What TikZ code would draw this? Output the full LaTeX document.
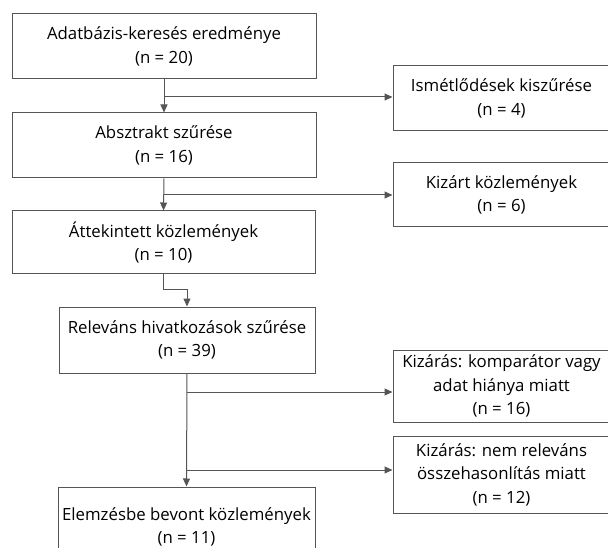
\documentclass[tikz,border=0pt]{standalone}
\usepackage{fontspec}
\setmainfont{Open Sans}
\usetikzlibrary{arrows.meta}
\definecolor{lc}{HTML}{555555}
\tikzset{
  box/.style={draw=lc, line width=1pt, align=center, inner sep=0pt,
    font=\fontsize{16.8}{23.5}\selectfont, text=black},
  arr/.style={draw=lc, line width=1pt, -{Triangle[length=8pt,width=7pt]}},
  ln/.style={draw=lc, line width=1pt}
}
\begin{document}
\begin{tikzpicture}[x=1pt,y=-1pt]
\useasboundingbox (0,0) rectangle (608,548);
\begin{scope}
\clip (0,0) rectangle (608,548);
\node[box, minimum width=304pt, minimum height=65pt] (b1) at (164,46.5) {Adatbázis-keresés eredménye\\(n = 20)};
\node[box, minimum width=304pt, minimum height=65pt] (b2) at (164,145.5) {Absztrakt szűrése\\(n = 16)};
\node[box, minimum width=303pt, minimum height=63pt] (b3) at (163.5,242.5) {Áttekintett közlemények\\(n = 10)};
\node[box, minimum width=256pt, minimum height=66pt] (b4) at (187,340) {Releváns hivatkozások szűrése\\(n = 39)};
\node[box, minimum width=257pt, minimum height=80pt] (b5) at (186.5,527) {Elemzésbe bevont közlemények\\(n = 11)};
\node[box, minimum width=217pt, minimum height=65pt] (r1) at (501.5,98.5) {Ismétlődések kiszűrése\\(n = 4)};
\node[box, minimum width=217pt, minimum height=64pt] (r2) at (501.5,195) {Kizárt közlemények\\(n = 6)};
\node[box, minimum width=217pt, minimum height=72pt] (r3) at (501.5,386) {Kizárás: komparátor vagy\\adat hiánya miatt\\(n = 16)};
\node[box, minimum width=217pt, minimum height=77pt] (r4) at (501.5,474.5) {Kizárás: nem releváns\\összehasonlítás miatt\\(n = 12)};
\end{scope}
\coordinate (j1) at (164,97);
\coordinate (j2) at (164,195);
\coordinate (j3) at (187,392);
\coordinate (j4) at (187,470);
\draw[arr] (b1.south) -- (b2.north);
\draw[arr] (j1) -- (j1 -| r1.west);
\draw[arr] (b2.south) -- (b3.north);
\draw[arr] (j2) -- (j2 -| r2.west);
\draw[arr] (b3.south) -- ++(0,15) -| (b4.north);
\draw[arr] (b4.south) -- (b5.north);
\draw[arr] (j3) -- (j3 -| r3.west);
\draw[arr] (j4) -- (j4 -| r4.west);
\end{tikzpicture}
\end{document}
